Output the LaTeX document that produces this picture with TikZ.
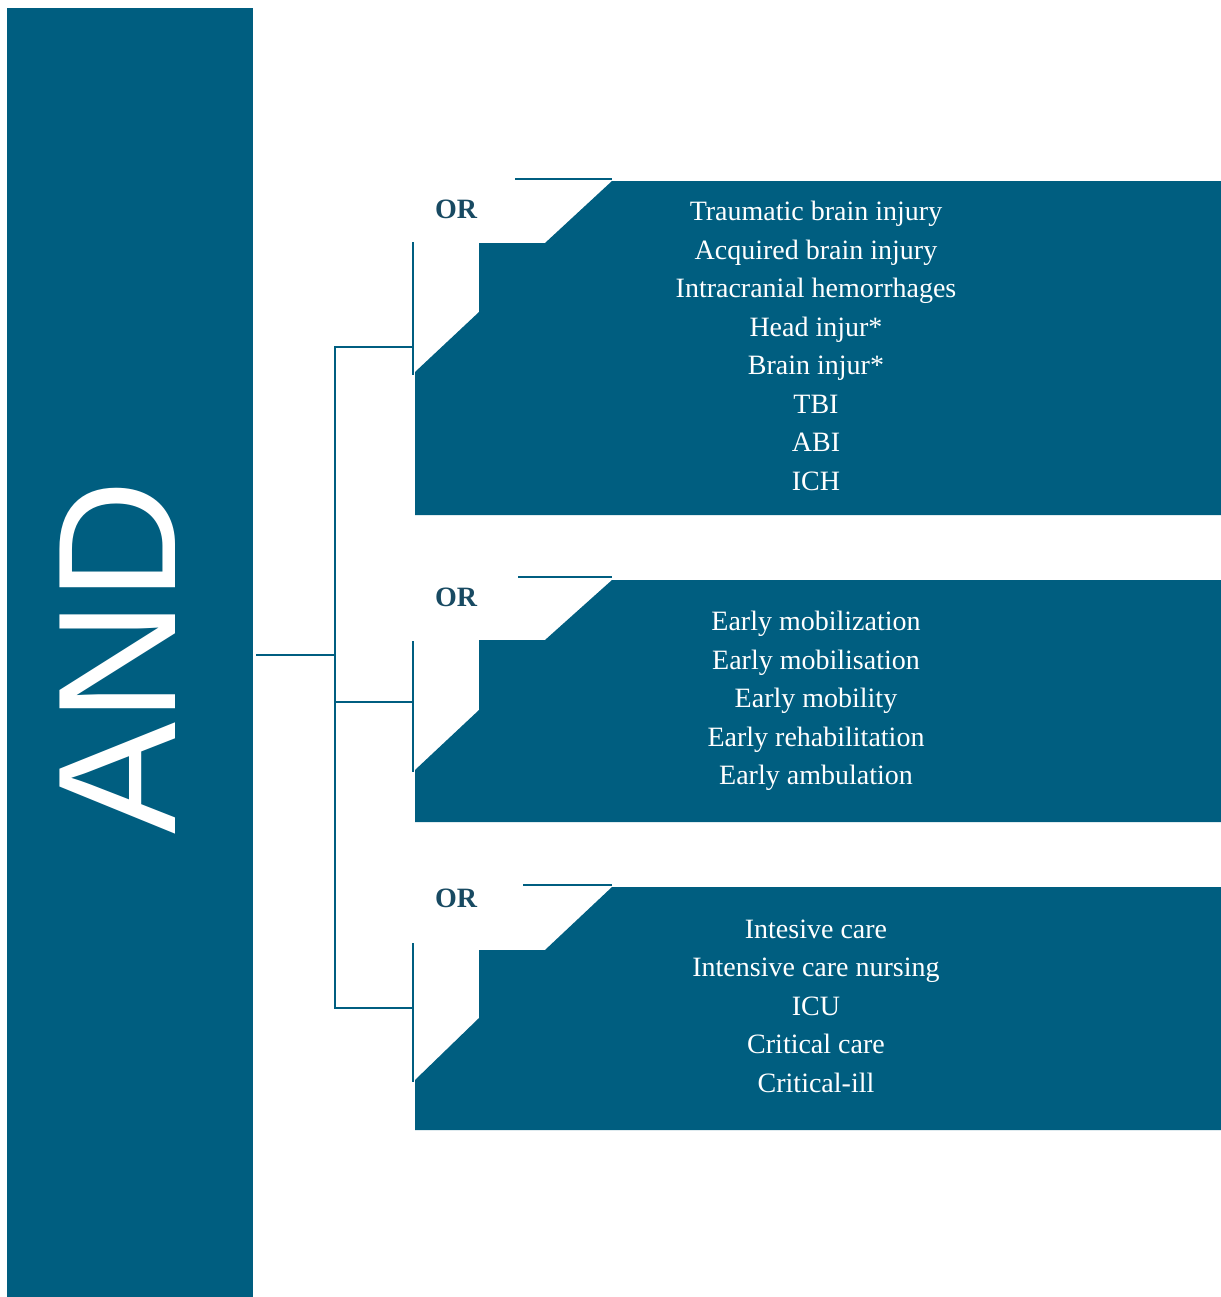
\documentclass[tikz,border=0pt]{standalone}
\usepackage{fontspec}
\setmainfont{Liberation Serif}
\newfontfamily\andfont{Liberation Sans}
\definecolor{bleu}{RGB}{0,94,128}
\definecolor{bleufonce}{RGB}{24,74,98}

\begin{document}
\begin{tikzpicture}[x=0.75pt, y=-0.75pt,
        bloc/.style={fill=bleu},
        trait/.style={draw=bleu, line width=1.5pt},
        lien/.style={draw=bleu, line width=1.5pt},
        ou/.style={font=\bfseries\fontsize{21}{25}\selectfont, text=bleufonce},
        termes/.style={align=center, text=white, font=\fontsize{21}{28.9}\selectfont}]

                \useasboundingbox (0,0) rectangle (1221,1297);

                % Colonne AND
                \node[bloc, inner sep=0, minimum width=184.5pt, minimum height=966.75pt] (andbar) at (130,652.5) {};
                \node[rotate=90, text=white, inner sep=0, font=\andfont\fontsize{126}{130}\selectfont] (andlabel) at (118,657) {AND};

                % Blocs OR
                \fill[bloc] (612,181) -- (1221,181) -- (1221,515) -- (415,515) -- (415,372) -- (479,312) -- (479,243) -- (545,243) -- cycle;
                \fill[bloc] (612,580) -- (1221,580) -- (1221,822) -- (415,822) -- (415,770) -- (479,710) -- (479,640) -- (545,640) -- cycle;
                \fill[bloc] (612,887) -- (1221,887) -- (1221,1130) -- (415,1130) -- (415,1080) -- (479,1018) -- (479,950) -- (545,950) -- cycle;

                \draw[trait] (515,179) -- (612,179);
                \draw[trait] (413,242) -- (413,375);
                \draw[trait] (518,577) -- (612,577);
                \draw[trait] (413,641) -- (413,772);
                \draw[trait] (523,885) -- (612,885);
                \draw[trait] (413,943) -- (413,1082);

                \node[ou] (or1) at (456,209) {OR};
                \node[ou] (or2) at (456,597) {OR};
                \node[ou] (or3) at (456,898) {OR};

                \node[termes] (terms1) at (816,346) {Traumatic brain injury\\Acquired brain injury\\Intracranial hemorrhages\\Head injur*\\Brain injur*\\TBI\\ABI\\ICH};
                \node[termes] (terms2) at (816,701) {Early mobilization\\Early mobilisation\\Early mobility\\Early rehabilitation\\Early ambulation};
                \node[termes] (terms3) at (816,1006) {Intesive care\\Intensive care nursing\\ICU\\Critical care\\Critical-ill};

                % Accolade
                \coordinate (hub) at (335,655);
                \coordinate (b1) at (413,347);
                \coordinate (b2) at (413,702);
                \coordinate (b3) at (413,1008);

                \draw[lien, line width=2.2pt] (andbar.east |- hub) ++(3,0) -- (hub);
                \draw[lien] (b1) -| (hub |- b3) -- (b3);
                \draw[lien] (hub |- b2) -- (b2);
\end{tikzpicture}
\end{document}
